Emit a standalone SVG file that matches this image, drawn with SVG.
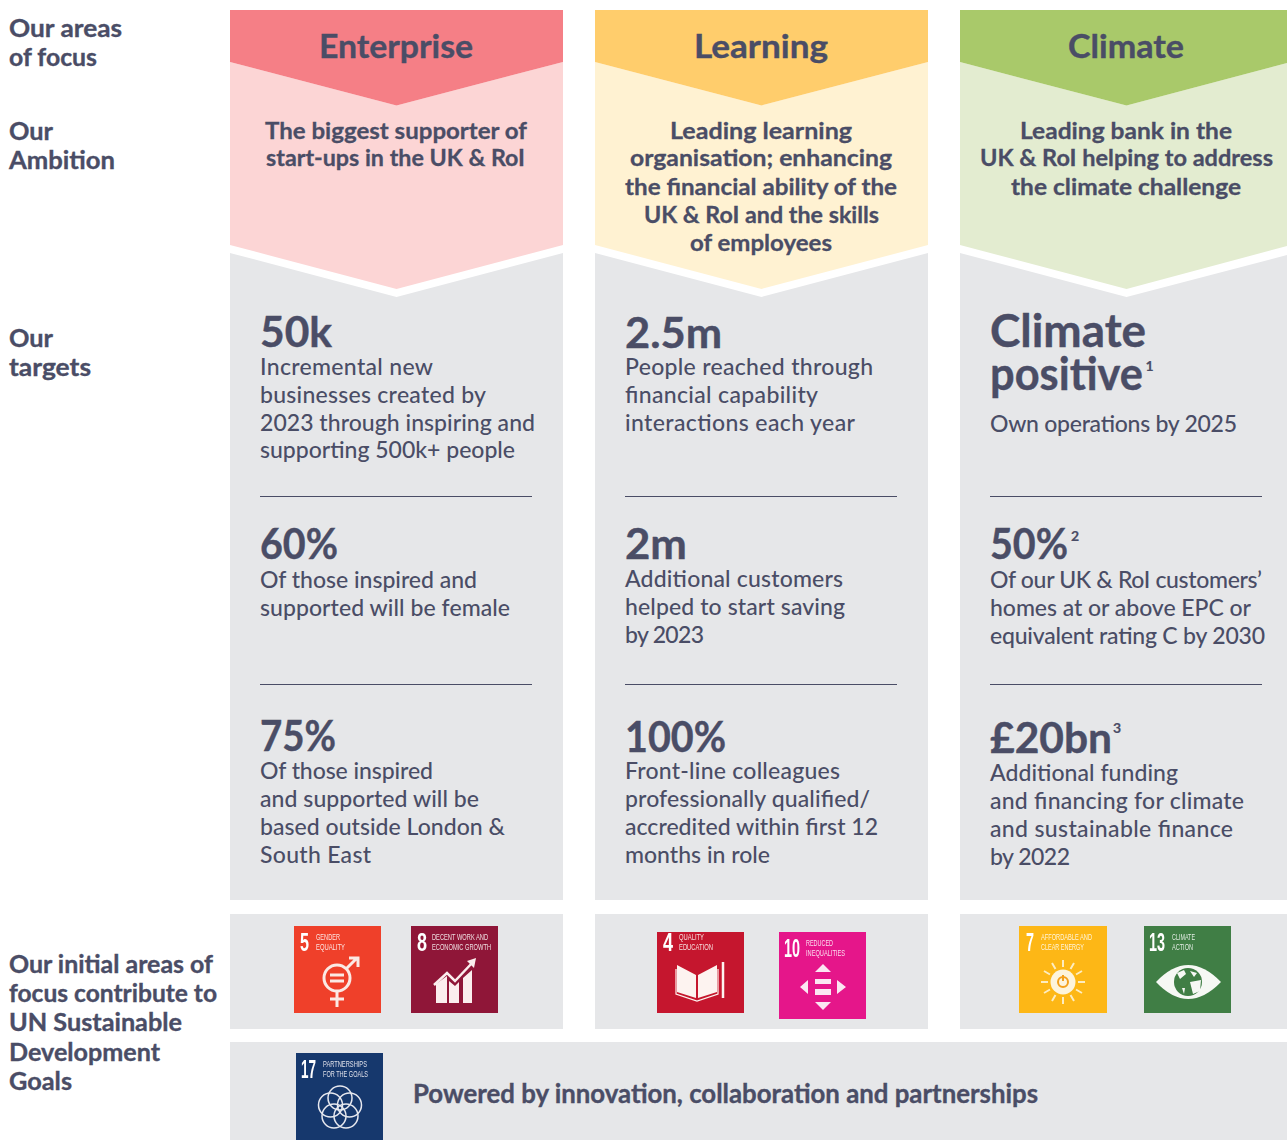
<svg xmlns="http://www.w3.org/2000/svg" width="1287" height="1140" viewBox="0 0 1287 1140">
<style>
text{font-family:"Lato","Noto Sans",sans-serif;fill:#4a4d66}
.lab{font-size:24px;font-weight:700;stroke:#4a4d66;stroke-width:.35}
.title{font-size:33px;font-weight:700;stroke:#4a4d66;stroke-width:.4}
.amb{font-size:23.5px;font-weight:700;stroke:#4a4d66;stroke-width:.3}
.body{font-size:23px;font-weight:500}
.big{font-size:42px;font-weight:700;stroke:#4a4d66;stroke-width:.4}
.huge{font-size:45px;font-weight:700;stroke:#4a4d66;stroke-width:.4}
.sup{font-size:14px;font-weight:700;stroke:#4a4d66;stroke-width:.2}
.pow{font-size:26px;font-weight:700;stroke:#4a4d66;stroke-width:.35}
.rule{stroke:#4a4d66;stroke-width:1;fill:none}
.grey{fill:#e6e7e9}
.n{font-family:"Liberation Sans",sans-serif;font-weight:700;font-size:25px;fill:#fff}
.t{font-family:"Liberation Sans",sans-serif;font-weight:400;font-size:8.500px;fill:#fff;fill-opacity:.85}
.ic{filter:url(#soft)}
</style>
<defs><filter id="soft" x="-5%" y="-5%" width="110%" height="110%"><feGaussianBlur stdDeviation="0.3"/></filter></defs>

<g id="row-labels">
<text class="lab" lengthAdjust="spacingAndGlyphs" x="9" y="37" textLength="113">Our areas</text>
<text class="lab" lengthAdjust="spacingAndGlyphs" x="9" y="66" textLength="88">of focus</text>
<text class="lab" lengthAdjust="spacingAndGlyphs" x="9" y="140" textLength="44">Our</text>
<text class="lab" lengthAdjust="spacingAndGlyphs" x="9" y="169" textLength="106">Ambition</text>
<text class="lab" lengthAdjust="spacingAndGlyphs" x="9" y="347" textLength="44">Our</text>
<text class="lab" lengthAdjust="spacingAndGlyphs" x="9" y="376" textLength="82">targets</text>
<text class="lab" lengthAdjust="spacingAndGlyphs" x="9" y="973" textLength="204">Our initial areas of</text>
<text class="lab" lengthAdjust="spacingAndGlyphs" x="9" y="1002" textLength="208">focus contribute to</text>
<text class="lab" lengthAdjust="spacingAndGlyphs" x="9" y="1031" textLength="173">UN Sustainable</text>
<text class="lab" lengthAdjust="spacingAndGlyphs" x="9" y="1061" textLength="151">Development</text>
<text class="lab" lengthAdjust="spacingAndGlyphs" x="9" y="1090" textLength="63">Goals</text>
</g>

<g id="enterprise">
<path class="grey" d="M230 253L396.500 297L563 253V900H230Z"/>
<path fill="#fcd5d5" d="M230 62L396.500 105.500L563 62V245L396.500 289L230 245Z"/>
<path fill="#f57f86" d="M230 10H563V62L396.500 105.500L230 62Z"/>
<text class="title" lengthAdjust="spacingAndGlyphs" x="319" y="57.500" textLength="154">Enterprise</text>
<text class="amb" lengthAdjust="spacingAndGlyphs" x="265" y="138.500" textLength="262">The biggest supporter of</text>
<text class="amb" lengthAdjust="spacingAndGlyphs" x="266" y="166" textLength="259">start-ups in the UK &amp; RoI</text>
<text class="big" lengthAdjust="spacingAndGlyphs" x="260" y="347" textLength="72">50k</text>
<text class="body" x="260" y="375" textLength="173">Incremental new</text>
<text class="body" x="260" y="403" textLength="226">businesses created by</text>
<text class="body" x="260" y="431" textLength="275">2023 through inspiring and</text>
<text class="body" x="260" y="458" textLength="255">supporting 500k+ people</text>
<path class="rule" d="M260 496.500H532M260 684.500H532"/>
<text class="big" lengthAdjust="spacingAndGlyphs" x="260" y="559" textLength="78">60%</text>
<text class="body" x="260" y="588" textLength="217">Of those inspired and</text>
<text class="body" x="260" y="616" textLength="250">supported will be female</text>
<text class="big" lengthAdjust="spacingAndGlyphs" x="260" y="751" textLength="76">75%</text>
<text class="body" x="260" y="779" textLength="173">Of those inspired</text>
<text class="body" x="260" y="807" textLength="219">and supported will be</text>
<text class="body" x="260" y="835" textLength="245">based outside London &amp;</text>
<text class="body" x="260" y="863" textLength="111">South East</text>
</g>

<g id="learning">
<path class="grey" d="M595 253L761.500 297L928 253V900H595Z"/>
<path fill="#fff2d2" d="M595 62L761.500 105.500L928 62V245L761.500 289L595 245Z"/>
<path fill="#ffcd6c" d="M595 10H928V62L761.500 105.500L595 62Z"/>
<text class="title" lengthAdjust="spacingAndGlyphs" x="694" y="57.500" textLength="134">Learning</text>
<text class="amb" lengthAdjust="spacingAndGlyphs" x="670" y="138.500" textLength="182">Leading learning</text>
<text class="amb" lengthAdjust="spacingAndGlyphs" x="630" y="166" textLength="262">organisation; enhancing</text>
<text class="amb" lengthAdjust="spacingAndGlyphs" x="625" y="195" textLength="272">the financial ability of the</text>
<text class="amb" lengthAdjust="spacingAndGlyphs" x="644" y="223" textLength="235">UK &amp; RoI and the skills</text>
<text class="amb" lengthAdjust="spacingAndGlyphs" x="690" y="251" textLength="142">of employees</text>
<text class="big" lengthAdjust="spacingAndGlyphs" x="625" y="348" textLength="97">2.5m</text>
<text class="body" x="625" y="375" textLength="248">People reached through</text>
<text class="body" x="625" y="403" textLength="193">financial capability</text>
<text class="body" x="625" y="431" textLength="230">interactions each year</text>
<path class="rule" d="M625 496.500H897M625 684.500H897"/>
<text class="big" lengthAdjust="spacingAndGlyphs" x="625" y="559" textLength="62">2m</text>
<text class="body" x="625" y="587" textLength="218">Additional customers</text>
<text class="body" x="625" y="615" textLength="220">helped to start saving</text>
<text class="body" x="625" y="643" textLength="79">by 2023</text>
<text class="big" lengthAdjust="spacingAndGlyphs" x="625" y="752" textLength="101">100%</text>
<text class="body" x="625" y="779" textLength="215">Front-line colleagues</text>
<text class="body" x="625" y="807" textLength="245">professionally qualified/</text>
<text class="body" x="625" y="835" textLength="253">accredited within first 12</text>
<text class="body" x="625" y="863" textLength="145">months in role</text>
</g>

<g id="climate">
<path class="grey" d="M960 253L1126.500 297L1287 255V900H960Z"/>
<path fill="#e3ecd0" d="M960 62L1126.500 105.500L1287 63V246L1126.500 289L960 245Z"/>
<path fill="#a9c96a" d="M960 10H1287V63L1126.500 105.500L960 62Z"/>
<text class="title" lengthAdjust="spacingAndGlyphs" x="1068" y="57.500" textLength="116">Climate</text>
<text class="amb" lengthAdjust="spacingAndGlyphs" x="1020" y="138.500" textLength="212">Leading bank in the</text>
<text class="amb" lengthAdjust="spacingAndGlyphs" x="980" y="166" textLength="293">UK &amp; RoI helping to address</text>
<text class="amb" lengthAdjust="spacingAndGlyphs" x="1011" y="195" textLength="230">the climate challenge</text>
<text class="huge" lengthAdjust="spacingAndGlyphs" x="990" y="347" textLength="156">Climate</text>
<text class="huge" lengthAdjust="spacingAndGlyphs" x="990" y="390" textLength="153">positive</text>
<text class="sup" x="1145.500" y="371">1</text>
<text class="body" x="990" y="432" textLength="247">Own operations by 2025</text>
<path class="rule" d="M990 496.500H1262M990 684.500H1262"/>
<text class="big" lengthAdjust="spacingAndGlyphs" x="990" y="559" textLength="78">50%</text>
<text class="sup" x="1071" y="541">2</text>
<text class="body" x="990" y="588" textLength="272">Of our UK &amp; RoI customers’</text>
<text class="body" x="990" y="616" textLength="261">homes at or above EPC or</text>
<text class="body" x="990" y="644" textLength="275">equivalent rating C by 2030</text>
<text class="big" lengthAdjust="spacingAndGlyphs" x="990" y="753" textLength="122">£20bn</text>
<text class="sup" x="1113" y="733">3</text>
<text class="body" x="990" y="781" textLength="188">Additional funding</text>
<text class="body" x="990" y="809" textLength="254">and financing for climate</text>
<text class="body" x="990" y="837" textLength="243">and sustainable finance</text>
<text class="body" x="990" y="865" textLength="80">by 2022</text>
</g>

<g id="sdg-panels">
<rect class="grey" x="230" y="914" width="333" height="115"/>
<rect class="grey" x="595" y="914" width="333" height="115"/>
<rect class="grey" x="960" y="914" width="327" height="115"/>
<rect class="grey" x="230" y="1042" width="1057" height="98"/>
</g>

<g id="sdg5" class="ic" transform="translate(294 926)">
<rect width="87" height="87" fill="#ef402b"/>
<text class="n" lengthAdjust="spacingAndGlyphs" x="6" y="25" textLength="9">5</text>
<text class="t" lengthAdjust="spacingAndGlyphs" x="22" y="14" textLength="24">GENDER</text>
<text class="t" lengthAdjust="spacingAndGlyphs" x="22" y="24" textLength="29">EQUALITY</text>
<g fill="none" stroke="#fbe9e4" stroke-width="3">
<circle cx="43" cy="52" r="13"/><path d="M43 65V81M36 73H50M52 43L63 32M55 32H64V41"/>
<path d="M36 49H50M36 55H50"/></g>
</g>

<g id="sdg8" class="ic" transform="translate(411 926)">
<rect width="87" height="87" fill="#8f1838"/>
<text class="n" lengthAdjust="spacingAndGlyphs" x="6" y="25" textLength="10">8</text>
<text class="t" lengthAdjust="spacingAndGlyphs" x="21" y="14" textLength="56">DECENT WORK AND</text>
<text class="t" lengthAdjust="spacingAndGlyphs" x="21" y="24" textLength="59">ECONOMIC GROWTH</text>
<path fill="#fbeeee" d="M25 58L36 50V77H25ZM38 55L44 60L48 56V77H38ZM52 52L61 44V77H52Z"/>
<path fill="none" stroke="#fbeeee" stroke-width="2.500" d="M23 59L36 47L44 55L62 36"/>
<path fill="#fbeeee" d="M56 35L65 32L63 42Z"/>
</g>

<g id="sdg4" class="ic" transform="translate(657 926)">
<rect y="6" width="87" height="81" fill="#c5192d"/>
<text class="n" lengthAdjust="spacingAndGlyphs" x="6" y="25" textLength="10">4</text>
<text class="t" lengthAdjust="spacingAndGlyphs" x="22" y="14" textLength="25">QUALITY</text>
<text class="t" lengthAdjust="spacingAndGlyphs" x="22" y="24" textLength="34">EDUCATION</text>
<path fill="#fdf3f0" d="M20 39L39 49V72L20 66ZM41 49L60 39V66L41 72Z"/>
<path fill="none" stroke="#fdf3f0" stroke-width="1.200" d="M19 43V68L40 75L61 68V43"/>
<path fill="none" stroke="#fdf3f0" stroke-width="2.500" d="M66 36V72"/>
</g>

<g id="sdg10" class="ic" transform="translate(779 932)">
<rect width="87" height="87" fill="#e5158a"/>
<text class="n" lengthAdjust="spacingAndGlyphs" x="5" y="25" textLength="16">10</text>
<text class="t" lengthAdjust="spacingAndGlyphs" x="27" y="14" textLength="27">REDUCED</text>
<text class="t" lengthAdjust="spacingAndGlyphs" x="27" y="24" textLength="39">INEQUALITIES</text>
<path fill="#fbe6f2" d="M44 32L52 40H36ZM44 78L36 70H52ZM21 55L29 48V62ZM67 55L58 48V62ZM36 47H52V52H36ZM36 57H52V63H36Z"/>
</g>

<g id="sdg7" class="ic" transform="translate(1019 926)">
<rect width="88" height="87" fill="#fdb713"/>
<text class="n" lengthAdjust="spacingAndGlyphs" x="7" y="25" textLength="8">7</text>
<text class="t" lengthAdjust="spacingAndGlyphs" x="22" y="14" textLength="51">AFFORDABLE AND</text>
<text class="t" lengthAdjust="spacingAndGlyphs" x="22" y="24" textLength="43">CLEAR ENERGY</text>
<circle cx="44" cy="56" r="12.500" fill="#fdf4dc"/>
<circle cx="44" cy="56" r="5" fill="none" stroke="#f3a01c" stroke-width="2"/>
<path stroke="#f3a01c" stroke-width="2" d="M44 49V55"/>
<path fill="none" stroke="#fdecc0" stroke-width="2" d="M44 34V41M44 71V78M22 56H29M59 56H66M33 37L36.500 43M51.500 69L55 75M55 37L51.500 43M36.500 69L33 75M25 45L31 48.500M57 63.500L63 67M63 45L57 48.500M31 63.500L25 67"/>
</g>

<g id="sdg13" class="ic" transform="translate(1144 926)">
<rect width="87" height="87" fill="#3f7e44"/>
<text class="n" lengthAdjust="spacingAndGlyphs" x="5" y="25" textLength="16">13</text>
<text class="t" lengthAdjust="spacingAndGlyphs" x="28" y="14" textLength="23">CLIMATE</text>
<text class="t" lengthAdjust="spacingAndGlyphs" x="28" y="24" textLength="21">ACTION</text>
<path fill="#f6f8f4" d="M12 56Q44 22 77 56Q44 90 12 56Z"/>
<circle cx="44" cy="56" r="14" fill="#3f7e44"/>
<path fill="#f6f8f4" d="M33 47L40 44L42 48L36 53ZM46 56L57 54L56 65L49 68ZM46 45L53 47L50 51ZM38 62L41 62L40 68Z"/>
</g>

<g id="sdg17" class="ic" transform="translate(296 1053)">
<rect width="87" height="87" fill="#19376d"/>
<text class="n" lengthAdjust="spacingAndGlyphs" x="5" y="25" textLength="15">17</text>
<text class="t" lengthAdjust="spacingAndGlyphs" x="27" y="14" textLength="44" fill-opacity=".7">PARTNERSHIPS</text>
<text class="t" lengthAdjust="spacingAndGlyphs" x="27" y="24" textLength="45" fill-opacity=".7">FOR THE GOALS</text>
<g fill="none" stroke="#e6e9ef" stroke-width="1.500">
<circle cx="44" cy="45" r="12"/><circle cx="53.500" cy="52" r="12"/><circle cx="50" cy="63" r="12"/><circle cx="38" cy="63" r="12"/><circle cx="34.500" cy="52" r="12"/>
</g>
</g>

<g id="partnerships">
<text class="pow" lengthAdjust="spacingAndGlyphs" x="413" y="1103" textLength="625">Powered by innovation, collaboration and partnerships</text>
</g>
</svg>
